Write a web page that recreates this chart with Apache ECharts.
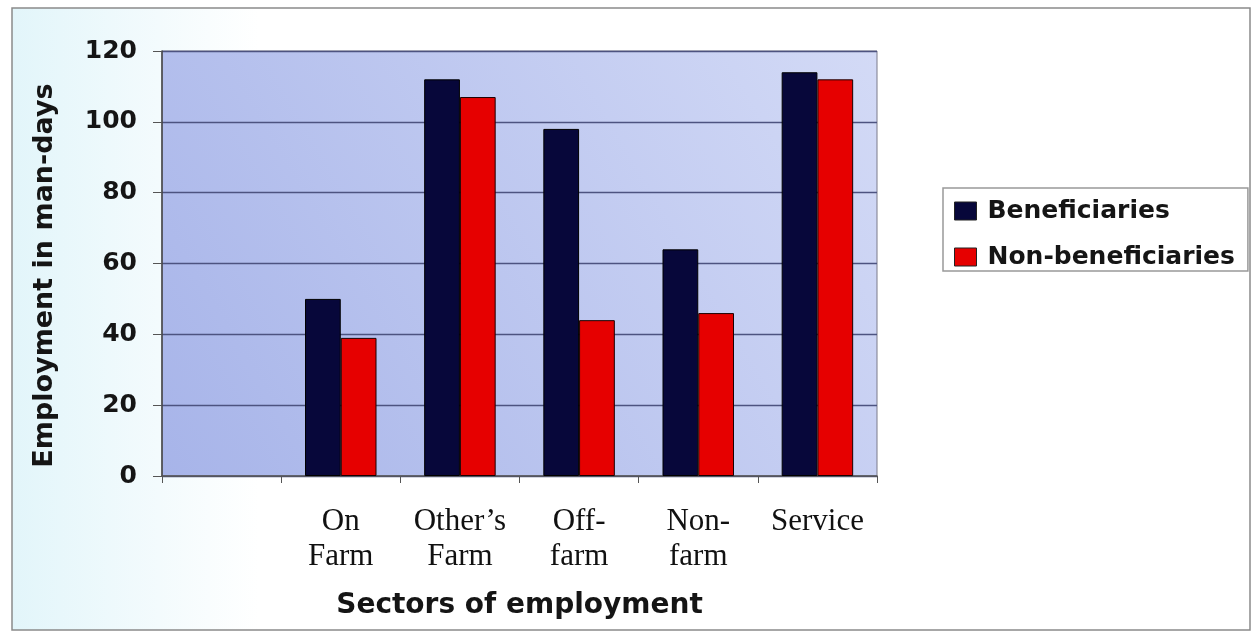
<!DOCTYPE html>
<html><head><meta charset="utf-8">
<script src="https://cdn.jsdelivr.net/npm/echarts@6/dist/echarts.min.js"></script>
<style>html,body{margin:0;padding:0;background:#fff}#c{width:1259px;height:635px}</style>
</head><body><div id="c"></div>
<script>
const categories = ['', 'On\nFarm', 'Other\u2019s\nFarm', 'Off-\nfarm', 'Non-\nfarm', 'Service'];
const beneficiaries = [null, 50, 112, 98, 64, 114];
const nonBeneficiaries = [null, 39, 107, 44, 46, 112];
const yTicks = [0, 20, 40, 60, 80, 100, 120];
const seriesNames = ['Beneficiaries', 'Non-beneficiaries'];

const sans = 'DejaVu Sans, Verdana, sans-serif';
const chart = echarts.init(document.getElementById('c'), null, {renderer: 'canvas'});
chart.setOption({
  animation: false,
  graphic: [
    {type: 'rect', z: -10, shape: {x: 12, y: 8, width: 1238, height: 622},
     style: {fill: new echarts.graphic.LinearGradient(0, 0, 1, 0, [
       {offset: 0, color: '#e2f5fa'}, {offset: 0.2, color: '#ffffff'}, {offset: 1, color: '#ffffff'}]),
       stroke: '#8a8a8a', lineWidth: 1.5}}
  ],
  grid: {left: 162, top: 51, width: 715, height: 425, show: true, borderColor: '#7a7a8a', borderWidth: 1,
    backgroundColor: new echarts.graphic.LinearGradient(0, 1, 1, 0, [
      {offset: 0, color: '#a7b4e9'}, {offset: 1, color: '#d3daf6'}])},
  legend: {
    orient: 'vertical', left: 943, top: 188, itemWidth: 22, itemHeight: 18, itemGap: 18,
    padding: [9, 13, 0, 11], borderColor: '#999', borderWidth: 1.5, backgroundColor: '#fff',
    icon: 'rect',
    textStyle: {fontFamily: sans, fontWeight: 'bold', fontSize: 25, lineHeight: 28, color: '#151515', padding: [0, 0, 0, 6]},
    data: seriesNames.map(n => ({name: n, itemStyle: {borderColor: '#222', borderWidth: 1}}))
  },
  xAxis: {
    type: 'category', data: categories,
    name: 'Sectors of employment', nameLocation: 'middle', nameGap: 116,
    nameTextStyle: {fontFamily: sans, fontWeight: 'bold', fontSize: 28, color: '#151515'},
    axisLine: {lineStyle: {color: '#555', width: 1.5}},
    axisTick: {show: true, length: 7, lineStyle: {color: '#555'}},
    axisLabel: {interval: 0, hideOverlap: false, fontFamily: 'Liberation Serif, Times New Roman, serif', fontSize: 31,
      color: '#111', lineHeight: 35, margin: 28}
  },
  yAxis: {
    type: 'value', min: 0, max: 120, interval: 20,
    name: 'Employment in man-days', nameLocation: 'middle', nameGap: 104,
    nameTextStyle: {fontFamily: sans, fontWeight: 'bold', fontSize: 27, color: '#151515', padding: [0, 24, 0, 0]},
    axisLine: {show: true, lineStyle: {color: '#444', width: 1.5}},
    axisTick: {show: true, length: 9, lineStyle: {color: '#555'}},
    axisLabel: {fontFamily: sans, fontWeight: 'bold', fontSize: 25, color: '#151515', margin: 25,
      formatter: v => yTicks.includes(v) ? String(v) : ''},
    splitLine: {lineStyle: {color: '#4d5380', width: 1.3}}
  },
  series: [
    {name: seriesNames[0], type: 'bar', data: beneficiaries, barGap: '0%', barCategoryGap: '40%',
     itemStyle: {color: '#07073a', borderColor: '#000', borderWidth: 1}},
    {name: seriesNames[1], type: 'bar', data: nonBeneficiaries,
     itemStyle: {color: '#e60000', borderColor: '#1a0000', borderWidth: 1}}
  ]
});
</script></body></html>
